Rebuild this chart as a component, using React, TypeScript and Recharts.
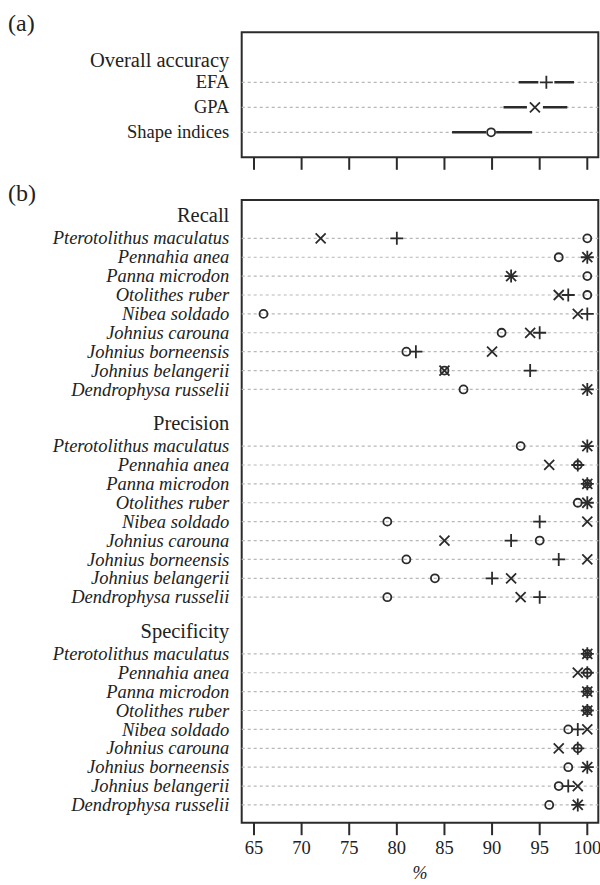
import {
  ErrorBar,
  ReferenceArea,
  ReferenceLine,
  Scatter,
  ScatterChart,
  XAxis,
  YAxis,
} from "recharts";

// ---- data ----
const species = [
  "Pterotolithus maculatus",
  "Pennahia anea",
  "Panna microdon",
  "Otolithes ruber",
  "Nibea soldado",
  "Johnius carouna",
  "Johnius borneensis",
  "Johnius belangerii",
  "Dendrophysa russelii",
];
const metrics = ["Recall", "Precision", "Specificity"];

const recallEFA = [80, 100, 92, 98, 100, 95, 82, 94, 100];
const recallGPA = [72, 100, 92, 97, 99, 94, 90, 85, 100];
const recallShape = [100, 97, 100, 100, 66, 91, 81, 85, 87];

const precisionEFA = [100, 99, 100, 100, 95, 92, 97, 90, 95];
const precisionGPA = [100, 96, 100, 100, 100, 85, 100, 92, 93];
const precisionShape = [93, 99, 100, 99, 79, 95, 81, 84, 79];

const specificityEFA = [100, 100, 100, 100, 99, 99, 100, 98, 99];
const specificityGPA = [100, 99, 100, 100, 100, 97, 100, 99, 99];
const specificityShape = [100, 100, 100, 100, 98, 99, 98, 97, 96];

const overallMethods = ["EFA", "GPA", "Shape indices"];
const overallMean = [95.7, 94.5, 89.9];
const overallLow = [92.8, 91.2, 85.8];
const overallHigh = [98.6, 97.9, 94.2];

const xTicks = [65, 70, 75, 80, 85, 90, 95, 100];

// ---- styling ----
const INK = "#2b2b2b";
const GRID = "#b8b8b8";
const FONT = "'Liberation Serif', 'Times New Roman', serif";
const X_DOMAIN: [number, number] = [63.71, 101.155];
const A_DOMAIN: [number, number] = [-1, 4];
const B_DOMAIN: [number, number] = [-1.03, 31.94];

const Plus = ({ cx, cy }: any) => (
  <path d={`M${cx - 6.5},${cy}H${cx + 6.5}M${cx},${cy - 6.5}V${cy + 6.5}`} stroke={INK} strokeWidth={1.8} fill="none" />
);
const Cross = ({ cx, cy }: any) => (
  <path d={`M${cx - 5},${cy - 5}L${cx + 5},${cy + 5}M${cx - 5},${cy + 5}L${cx + 5},${cy - 5}`} stroke={INK} strokeWidth={1.8} fill="none" />
);
const Ring = ({ cx, cy }: any) => <circle cx={cx} cy={cy} r={4} stroke={INK} strokeWidth={1.8} fill="none" />;

// white patch behind a symbol so the interval line shows a gap
const masked = (Mark: any, half: number) => (props: any) => (
  <g>
    <rect x={props.cx - half} y={props.cy - 5} width={half * 2} height={10} fill="#fff" />
    <Mark {...props} />
  </g>
);

// ---- rows for panel (b) ----
type Row = { y: number; label: string; header: boolean };
const rowsB: Row[] = [];
metrics.forEach((m, mi) => {
  rowsB.push({ y: mi * 11 - 0.2, label: m, header: true });
  species.forEach((s, si) => rowsB.push({ y: mi * 11 + 1 + si, label: s, header: false }));
});
const speciesRowsB = rowsB.filter((r) => !r.header).map((r) => r.y);

const groups = [
  [recallEFA, recallGPA, recallShape],
  [precisionEFA, precisionGPA, precisionShape],
  [specificityEFA, specificityGPA, specificityShape],
];
const seriesB = [0, 1, 2].map((k) =>
  groups.flatMap((g, mi) => g[k].map((v, si) => ({ x: v, y: mi * 11 + 1 + si })))
);

// ---- rows for panel (a) ----
const rowsA: Row[] = [
  { y: 0.1, label: "Overall accuracy", header: true },
  ...overallMethods.map((m, i) => ({ y: i + 1, label: m, header: false })),
];
const seriesA = overallMethods.map((_, i) => [
  { x: overallMean[i], y: i + 1, err: [overallMean[i] - overallLow[i], overallHigh[i] - overallMean[i]] },
]);

const makeTick = (rows: Row[], itemItalic: boolean) => (props: any) => {
  const { x, y, payload } = props;
  const row = rows.find((r) => Math.abs(r.y - payload.value) < 1e-6);
  if (!row) return <g />;
  return (
    <text
      x={x}
      y={y}
      dy="0.33em"
      textAnchor="end"
      fill="#222"
      fontFamily={FONT}
      fontSize={row.header ? 20.5 : 18.5}
      fontStyle={!row.header && itemItalic ? "italic" : "normal"}
    >
      {row.label}
    </text>
  );
};

const NumberTick = ({ x, y, payload }: any) => (
  <text x={x} y={y} dy="0.71em" textAnchor="middle" fill="#222" fontFamily={FONT} fontSize={18.5}>
    {payload.value}
  </text>
);

const Frame = ({ domain }: { domain: [number, number] }) => (
  <ReferenceArea
    x1={X_DOMAIN[0]}
    x2={X_DOMAIN[1]}
    y1={domain[0]}
    y2={domain[1]}
    fill="none"
    fillOpacity={0}
    stroke={INK}
    strokeWidth={2}
    ifOverflow="visible"
  />
);

const markers = [Plus, Cross, Ring];

export default function App() {
  return (
    <div style={{ position: "absolute", left: 0, top: 0, width: 600, height: 885, background: "#fff", fontFamily: FONT }}>
      <div style={{ position: "absolute", left: 8, top: 11, fontSize: 24, lineHeight: 1, color: "#222" }}>(a)</div>
      <div style={{ position: "absolute", left: 8, top: 181, fontSize: 24, lineHeight: 1, color: "#222" }}>(b)</div>

      <div style={{ position: "absolute", left: 0, top: 0 }}>
        <ScatterChart width={600} height={185} margin={{ top: 32.3, right: 1.7, bottom: 0, left: 0 }}>
          <XAxis
            type="number"
            dataKey="x"
            domain={X_DOMAIN}
            ticks={xTicks}
            allowDataOverflow
            axisLine={false}
            tickSize={12.5}
            tickLine={{ stroke: INK, strokeWidth: 2 }}
            tick={() => <g />}
            height={27.7}
          />
          <YAxis
            type="number"
            dataKey="y"
            domain={A_DOMAIN}
            reversed
            allowDataOverflow
            ticks={rowsA.map((r) => r.y)}
            interval={0}
            width={241.7}
            axisLine={false}
            tickLine={false}
            tickSize={0}
            tickMargin={12.4}
            tick={makeTick(rowsA, false)}
          />
          {[1, 2, 3].map((y) => (
            <ReferenceLine key={y} y={y} stroke={GRID} strokeWidth={1.2} strokeDasharray="3 3" />
          ))}
          {seriesA.map((d, i) => (
            <Scatter key={i} data={d} shape={masked(markers[i], i === 2 ? 5 : 8)} isAnimationActive={false}>
              <ErrorBar dataKey="err" direction="x" width={0} stroke={INK} strokeWidth={2.4} />
            </Scatter>
          ))}
          <Frame domain={A_DOMAIN} />
        </ScatterChart>
      </div>

      <div style={{ position: "absolute", left: 0, top: 180 }}>
        <ScatterChart width={600} height={705} margin={{ top: 20, right: 1.7, bottom: 0, left: 0 }}>
          <XAxis
            type="number"
            dataKey="x"
            domain={X_DOMAIN}
            ticks={xTicks}
            allowDataOverflow
            axisLine={false}
            tickSize={12.5}
            tickMargin={6}
            tickLine={{ stroke: INK, strokeWidth: 2 }}
            tick={NumberTick}
            height={62.3}
            label={{ value: "%", position: "insideBottom", offset: 6, fill: "#222", fontSize: 18, fontFamily: FONT, fontStyle: "italic" }}
          />
          <YAxis
            type="number"
            dataKey="y"
            domain={B_DOMAIN}
            reversed
            allowDataOverflow
            ticks={rowsB.map((r) => r.y)}
            interval={0}
            width={241.7}
            axisLine={false}
            tickLine={false}
            tickSize={0}
            tickMargin={12.4}
            tick={makeTick(rowsB, true)}
          />
          {speciesRowsB.map((y) => (
            <ReferenceLine key={y} y={y} stroke={GRID} strokeWidth={1.2} strokeDasharray="3 3" />
          ))}
          {seriesB.map((d, i) => (
            <Scatter key={i} data={d} shape={markers[i]} isAnimationActive={false} />
          ))}
          <Frame domain={B_DOMAIN} />
        </ScatterChart>
      </div>
    </div>
  );
}
